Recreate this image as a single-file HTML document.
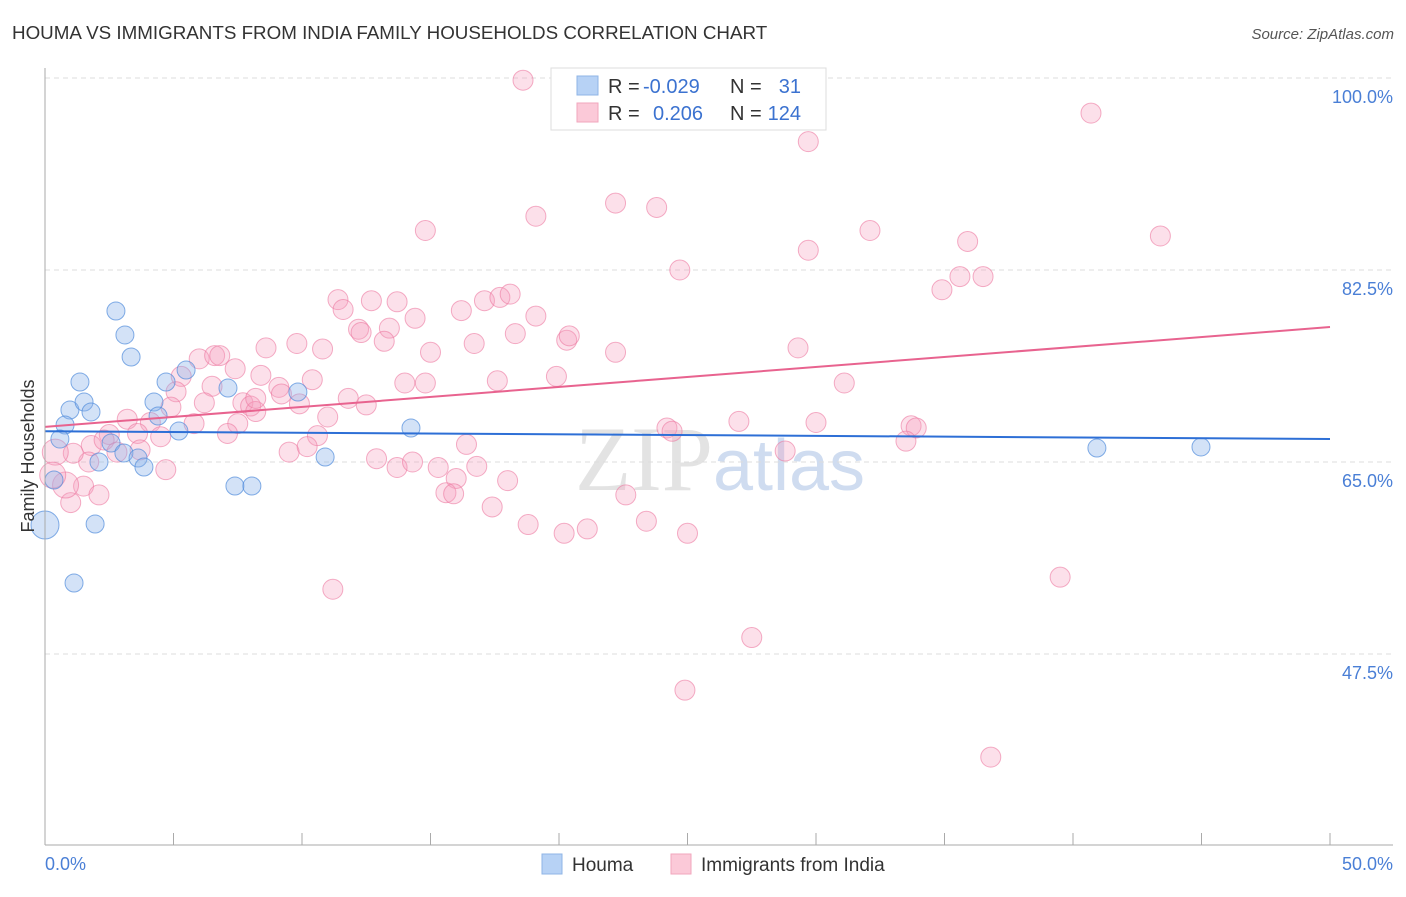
<!DOCTYPE html>
<html><head><meta charset="utf-8"><style>
body{margin:0;background:#fff;font-family:"Liberation Sans",sans-serif;}
</style></head><body>
<svg id="c" width="1406" height="892" xmlns="http://www.w3.org/2000/svg">
<text x="12" y="39" font-size="18.8" fill="#333">HOUMA VS IMMIGRANTS FROM INDIA FAMILY HOUSEHOLDS CORRELATION CHART</text>
<text x="1394" y="39" font-size="15" fill="#555" font-style="italic" text-anchor="end">Source: ZipAtlas.com</text>
<text x="720" y="490" font-size="92" fill="#e3e3e3" text-anchor="middle" font-family="Liberation Serif,serif">ZIP<tspan fill="#cfdcf0" font-family="Liberation Sans,sans-serif" font-size="72">atlas</tspan></text>
<g id="grid"></g><g id="pts"></g><g id="lines"></g>
<line x1="45" y1="68" x2="45" y2="845" stroke="#aaa"/>
<line x1="45" y1="845" x2="1393" y2="845" stroke="#aaa"/>
<text x="0" y="0" transform="translate(34,456) rotate(-90)" font-size="18" fill="#333" text-anchor="middle">Family Households</text>
<text x="45" y="870" font-size="18" fill="#4a7fd6">0.0%</text>
<text x="1393" y="870" font-size="18" fill="#4a7fd6" text-anchor="end">50.0%</text>
<g>
<rect x="551" y="68" width="275" height="62" fill="#fff" stroke="#ddd"/>
<rect x="577" y="76" width="21" height="19" fill="#b7d2f5" stroke="#8fb4e6"/>
<rect x="577" y="103" width="21" height="19" fill="#fbc9d8" stroke="#f1a6bd"/>
<text x="608" y="93" font-size="20" fill="#333">R = <tspan x="643" fill="#3b72d0">-0.029</tspan><tspan x="730">N =</tspan><tspan x="801" text-anchor="end" fill="#3b72d0">31</tspan></text>
<text x="608" y="120" font-size="20" fill="#333">R = <tspan x="653" fill="#3b72d0">0.206</tspan><tspan x="730">N =</tspan><tspan x="801" text-anchor="end" fill="#3b72d0">124</tspan></text>
</g>
<g>
<rect x="542" y="854" width="20" height="20" fill="#b7d2f5" stroke="#8fb4e6"/>
<text x="572" y="871" font-size="19" fill="#333">Houma</text>
<rect x="671" y="854" width="20" height="20" fill="#fbc9d8" stroke="#f1a6bd"/>
<text x="701" y="871" font-size="19" fill="#333">Immigrants from India</text>
</g>
</svg>
<script>
const yTicks=[100,82.5,65,47.5];
const yTickLabels=["100.0%","82.5%","65.0%","47.5%"];
const xTicks=[0,5,10,15,20,25,30,35,40,45,50];
const houmaX=[2.76,3.11,3.35,1.36,4.71,5.49,7.12,9.84,0.97,1.52,1.79,4.24,4.40,5.21,0.78,0.58,2.57,3.07,3.62,3.85,2.10,0.35,7.39,8.05,10.90,14.24,1.95,0,1.13,40.93,44.98];
const houmaY=[78.76,76.58,74.57,72.29,72.29,73.38,71.74,71.38,69.74,70.47,69.56,70.47,69.19,67.82,68.37,67.09,66.73,65.82,65.36,64.54,65.0,63.36,62.81,62.81,65.45,68.10,59.35,59.26,53.97,66.27,66.37];
const indiaX=[18.6,40.7,29.7,14.8,19.1,22.2,23.8,32.1,43.4,35.9,29.7,24.7,34.9,35.6,36.5,11.4,11.6,12.7,13.7,14.4,16.2,17.1,17.7,18.1,19.1,12.2,12.3,13.4,13.2,16.7,18.3,20.3,20.4,22.2,29.3,8.6,9.8,10.8,15.0,6.0,6.6,6.8,7.4,8.4,10.4,14.0,14.8,17.6,19.9,31.1,5.3,5.1,6.5,9.1,9.2,11.8,12.5,7.7,8.0,9.9,8.2,6.2,4.9,11.0,3.2,4.1,7.5,5.8,7.1,3.6,4.5,10.6,2.5,1.8,2.3,2.8,9.5,10.2,16.4,24.2,24.4,27.0,30.0,33.7,33.9,33.5,28.8,12.9,13.7,14.3,15.3,16.0,16.8,18.0,15.6,15.9,22.6,17.4,18.8,20.2,21.1,23.4,25.0,4.7,1.7,1.1,1.5,2.1,1.0,0.8,0.4,0.3,11.2,39.5,27.5,24.9,36.8,3.7,8.2];
const indiaY=[99.8,96.8,94.2,86.1,87.4,88.6,88.2,86.1,85.6,85.1,84.3,82.5,80.7,81.9,81.9,79.8,78.9,79.7,79.6,78.1,78.8,79.7,80.0,80.3,78.3,77.1,76.8,77.2,76.0,75.8,76.7,76.1,76.5,75.0,75.4,75.4,75.8,75.3,75.0,74.4,74.7,74.7,73.5,72.9,72.5,72.2,72.2,72.4,72.8,72.2,72.8,71.4,71.9,71.8,71.2,70.8,70.2,70.4,70.1,70.3,69.6,70.4,70.0,69.1,68.9,68.6,68.5,68.5,67.6,67.6,67.3,67.4,67.5,66.5,67.0,65.9,65.9,66.4,66.6,68.1,67.8,68.7,68.6,68.3,68.1,66.9,66.0,65.3,64.5,65.0,64.5,63.5,64.6,63.3,62.2,62.1,62.0,60.9,59.3,58.5,58.9,59.6,58.5,64.3,65.0,65.8,62.8,62.0,61.3,62.9,65.9,63.8,53.4,54.5,49.0,44.2,38.1,66.1,70.8];
const houmaTrend=[67.8,67.1];
const indiaTrend=[68.2,77.3];
const NS="http://www.w3.org/2000/svg";
const X=v=>45+v*25.7, Y=v=>78+(100-v)*10.971;
function mk(t,a,p){const e=document.createElementNS(NS,t);for(const k in a)e.setAttribute(k,a[k]);p.appendChild(e);return e;}
const grid=document.getElementById('grid');
yTicks.forEach((t,i)=>{
 const l=mk('line',{x1:45,x2:1393,y1:Y(t),y2:Y(t),stroke:'#ddd','stroke-dasharray':'5,4'},grid);
 
 
 const tx=mk('text',{x:1393,y:Y(t)+25,'font-size':18,fill:'#4a7fd6','text-anchor':'end'},grid);
 tx.textContent=yTickLabels[i];
 
 
});
xTicks.forEach(t=>{
 const l=mk('line',{x1:X(t),x2:X(t),y1:833,y2:845,stroke:'#aaa'},grid);
 
 
});
const pts=document.getElementById('pts');
indiaX.forEach((x,i)=>{
 const c=mk('circle',{cx:X(x),cy:Y(indiaY[i]),r:(x<1?13:10),fill:'rgba(245,160,190,0.32)',stroke:'rgba(236,120,160,0.6)','stroke-width':1},pts);
 
 
});
houmaX.forEach((x,i)=>{
 const c=mk('circle',{cx:X(x),cy:Y(houmaY[i]),r:(x<0.1?14:9),fill:'rgba(140,180,235,0.38)',stroke:'rgba(80,140,220,0.7)','stroke-width':1},pts);
 
 
});
const lines=document.getElementById('lines');
const l1=mk('line',{x1:X(0),x2:X(50),y1:Y(houmaTrend[0]),y2:Y(houmaTrend[1]),stroke:'#2d6fd6','stroke-width':2},lines);


const l2=mk('line',{x1:X(0),x2:X(50),y1:Y(indiaTrend[0]),y2:Y(indiaTrend[1]),stroke:'#e8638f','stroke-width':2},lines);


</script>
</body></html>
